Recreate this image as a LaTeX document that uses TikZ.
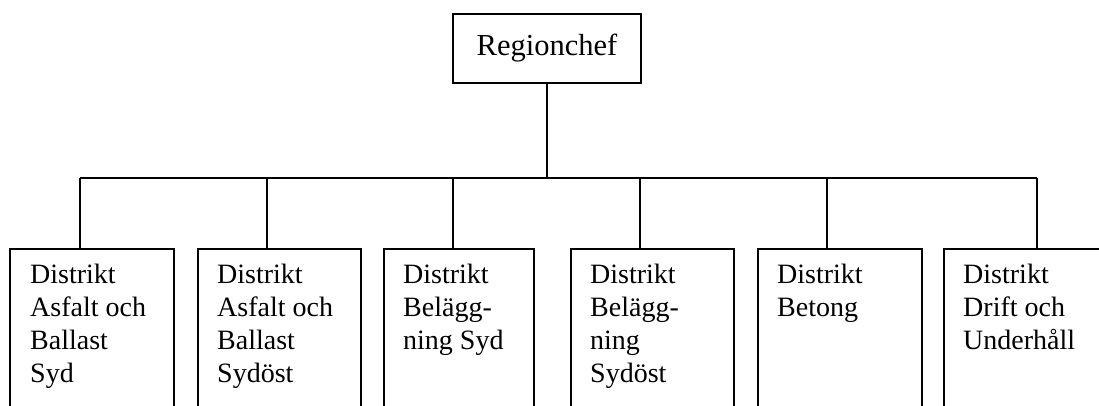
\documentclass[tikz,border=0pt]{standalone}
\usepackage{fontspec}
\setmainfont{Liberation Serif}
\usetikzlibrary{calc}
\begin{document}
\begin{tikzpicture}[x=1pt,y=-1pt,
  box/.style={draw, line width=1.6pt, rectangle, inner sep=0pt, anchor=north west},
  conn/.style={line width=1.6pt},
  lbl/.style={inner sep=0pt, anchor=base west, font=\fontsize{28}{33}\selectfont}]
  \useasboundingbox (0,0) rectangle (1099,406);
  \clip (0,0) rectangle (1099,406);

  % head of the region
  \node[draw, line width=1.6pt, rectangle, minimum width=188pt, minimum height=69pt,
        inner sep=0pt, font=\fontsize{30.5}{34}\selectfont] (rc) at (547,48.5) {Regionchef};

  % district boxes (their lower edges run past the page)
  \node[box, minimum width=164pt, minimum height=220pt] (b1) at (9,248) {};
  \node[box, minimum width=163pt, minimum height=220pt] (b2) at (197,248) {};
  \node[box, minimum width=150pt, minimum height=220pt] (b3) at (383,248) {};
  \node[box, minimum width=163pt, minimum height=220pt] (b4) at (570,248) {};
  \node[box, minimum width=164pt, minimum height=220pt] (b5) at (757,248) {};
  \node[box, minimum width=200pt, minimum height=220pt] (b6) at (943,248) {};

  % district names
  \node[lbl] (t1) at ($(b1.north west)+(21,35)$) {\parbox[t]{140pt}{\raggedright Distrikt\\Asfalt och\\Ballast\\Syd}};
  \node[lbl] (t2) at ($(b2.north west)+(20,35)$) {\parbox[t]{140pt}{\raggedright Distrikt\\Asfalt och\\Ballast\\Sydöst}};
  \node[lbl] (t3) at ($(b3.north west)+(20,35)$) {\parbox[t]{140pt}{\raggedright Distrikt\\Belägg-\\ning Syd}};
  \node[lbl] (t4) at ($(b4.north west)+(20,35)$) {\parbox[t]{140pt}{\raggedright Distrikt\\Belägg-\\ning\\Sydöst}};
  \node[lbl] (t5) at ($(b5.north west)+(20,35)$) {\parbox[t]{140pt}{\raggedright Distrikt\\Betong}};
  \node[lbl] (t6) at ($(b6.north west)+(20,35)$) {\parbox[t]{140pt}{\raggedright Distrikt\\Drift och\\Underhåll}};

  % connection points on the box tops and the horizontal bus
  \coordinate (bus) at (0,178);
  \coordinate (d1) at (80,248);
  \coordinate (d2) at (267,248);
  \coordinate (d3) at (453,248);
  \coordinate (d4) at (640,248);
  \coordinate (d5) at (827,248);
  \coordinate (d6) at (1037,248);

  \draw[conn] (rc.south) -- (rc.south |- bus);
  \draw[conn] (d1 |- bus) -- (d6 |- bus);
  \foreach \i in {1,...,6} {
    \draw[conn] (d\i |- bus) -- (d\i);
  }
\end{tikzpicture}
\end{document}
